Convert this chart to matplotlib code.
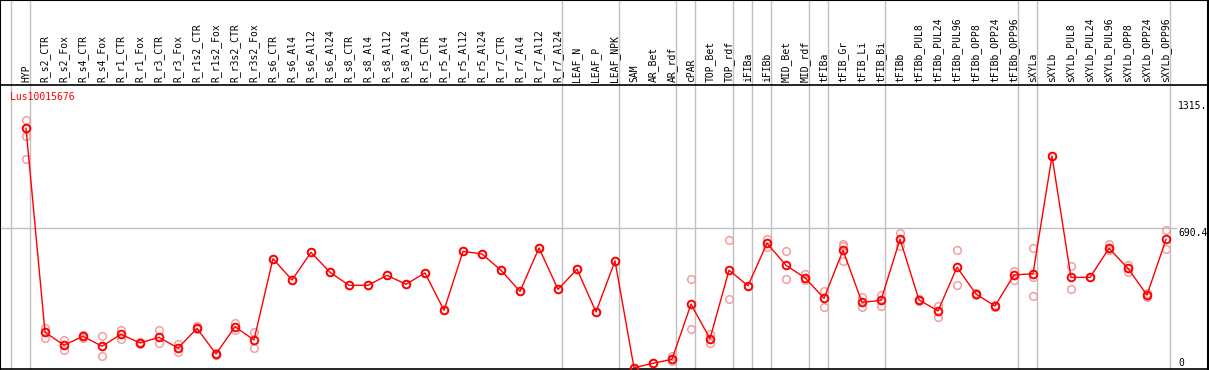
import numpy as np
import matplotlib
matplotlib.use('Agg')
import matplotlib.pyplot as plt

# sample labels (header)
labels = ['HYP', 'R_s2_CTR', 'R_s2_Fox', 'R_s4_CTR', 'R_s4_Fox', 'R_r1_CTR', 'R_r1_Fox',
          'R_r3_CTR', 'R_r3_Fox', 'R_r1s2_CTR', 'R_r1s2_Fox', 'R_r3s2_CTR', 'R_r3s2_Fox',
          'R_s6_CTR', 'R_s6_Al4', 'R_s6_Al12', 'R_s6_Al24', 'R_s8_CTR', 'R_s8_Al4', 'R_s8_Al12',
          'R_s8_Al24', 'R_r5_CTR', 'R_r5_Al4', 'R_r5_Al12', 'R_r5_Al24', 'R_r7_CTR', 'R_r7_Al4',
          'R_r7_Al12', 'R_r7_Al24', 'LEAF_N', 'LEAF_P', 'LEAF_NPK', 'SAM', 'AR_Bet', 'AR_rdf',
          'cPAR', 'TOP_Bet', 'TOP_rdf', 'iFIBa', 'iFIBb', 'MID_Bet', 'MID_rdf', 'tFIBa',
          'tFIB_Gr', 'tFIB_Li', 'tFIB_Bi', 'tFIBb', 'tFIBb_PUL8', 'tFIBb_PUL24', 'tFIBb_PUL96',
          'tFIBb_OPP8', 'tFIBb_OPP24', 'tFIBb_OPP96', 'sXYLa', 'sXYLb', 'sXYLb_PUL8',
          'sXYLb_PUL24', 'sXYLb_PUL96', 'sXYLb_OPP8', 'sXYLb_OPP24', 'sXYLb_OPP96']

# mean expression per sample
means = [1180, 176, 112, 156, 107, 166, 123, 151, 98, 195, 69, 203, 138,
         538, 433, 569, 471, 407, 407, 456, 412, 468, 284, 574, 561, 481, 377, 591, 387,
         486, 276, 527, 1, 23, 43, 314, 144, 481, 405, 614, 505, 444, 343,
         579, 323, 333, 634, 335, 281, 496, 364, 305, 458, 464, 1043,
         446, 446, 589, 490, 359, 633]

# replicate values (visible ones)
reps = [[1220, 1142, 1027, 1180], [198, 149], [138, 89], [162, 150], [156, 61],
        [188, 143], [128, 118], [187, 122], [117, 77], [208, 190], [72, 66],
        [223, 187], [177, 97],
        [538], [433], [569], [471], [407], [407], [456], [412], [468], [284], [574], [561],
        [481], [377], [591], [387], [486], [276], [527],
        [1], [23], [59, 35], [436, 190], [167, 122], [628, 338], [405], [633, 597],
        [574, 437], [463, 433], [380, 302], [612, 598, 527], [348, 302], [359, 305],
        [666, 599], [340, 330], [307, 252], [581, 407], [370, 360], [310, 300],
        [477, 432], [589, 449, 356], [1043], [502, 387], [446], [610, 580],
        [507, 471], [371, 348], [679, 587]]

# group boundaries (column index where a new group starts)
group_starts = [0, 1, 29, 32, 35, 36, 38, 39, 40, 42, 43, 46, 53, 54, 61]

y_ticks = [1315, 690.4, 0]
y_tick_labels = ['1315.', '690.4', '0']
gene = 'Lus10015676'

W, H = 1209, 370
x0, dx = 26, 19          # pixel of first sample, pixel step
py0, scale = 368, 0.2032  # pixel of value 0, pixels per unit
header_px = 85

fig = plt.figure(figsize=(W / 100, H / 100), dpi=100)
ax = fig.add_axes([0, 0, 1, 1])
ax.set_xlim(-x0 / dx, (W - x0) / dx)
ax.set_ylim(-(H - py0) / scale, py0 / scale)
ax.axis('off')

mono = 'DejaVu Sans Mono'
grey = '#c0c0c0'
x = np.arange(len(labels))

# vertical group separators through header and plot
for g in group_starts:
    ax.axvline(g - 15 / dx, color=grey, lw=1, zorder=1)

# horizontal grid at middle tick
ax.plot([-x0 / dx, (1176 - x0) / dx], [690.4, 690.4], color=grey, lw=1, zorder=1)

# header separator and borders
header_v = (py0 - header_px) / scale
ax.axhline(header_v, color='black', lw=1.2, zorder=3)
ax.axhline(-1 / scale, color='black', lw=1.2, zorder=3)
ax.axhline(py0 / scale - 0.5 / scale, color='black', lw=1.5, zorder=3)
ax.axvline(-x0 / dx + 0.5 / dx, color='black', lw=1.5, zorder=3)
ax.axvline((1207.5 - x0) / dx, color='black', lw=1.5, zorder=3)

# header labels
label_v = (py0 - 82) / scale
for i, lab in enumerate(labels):
    ax.text(i, label_v, lab, rotation=90, ha='center', va='bottom',
            fontsize=7, family=mono, color='black')

# replicates
for i, vals in enumerate(reps):
    ax.plot([i] * len(vals), vals, linestyle='none', marker='o', ms=5.5,
            mfc='none', mec='#f0a0a0', mew=1.1, zorder=4)

# mean line
ax.plot(x, means, color='red', lw=1, marker='o', ms=5.5, mfc='none',
        mec='red', mew=1.4, zorder=5)

# right value labels
xr = (1178 - x0) / dx
for v, t in zip(y_ticks, y_tick_labels):
    ax.text(xr, v, t, ha='left', va='top' if v > 0 else 'bottom',
            fontsize=7, family=mono, color='black')

ax.text(10 / W, 1 - 97 / H, gene, transform=ax.transAxes, ha='left', va='center',
        fontsize=7, family=mono, color='red', zorder=6)

fig.savefig('out.png', dpi=100)
